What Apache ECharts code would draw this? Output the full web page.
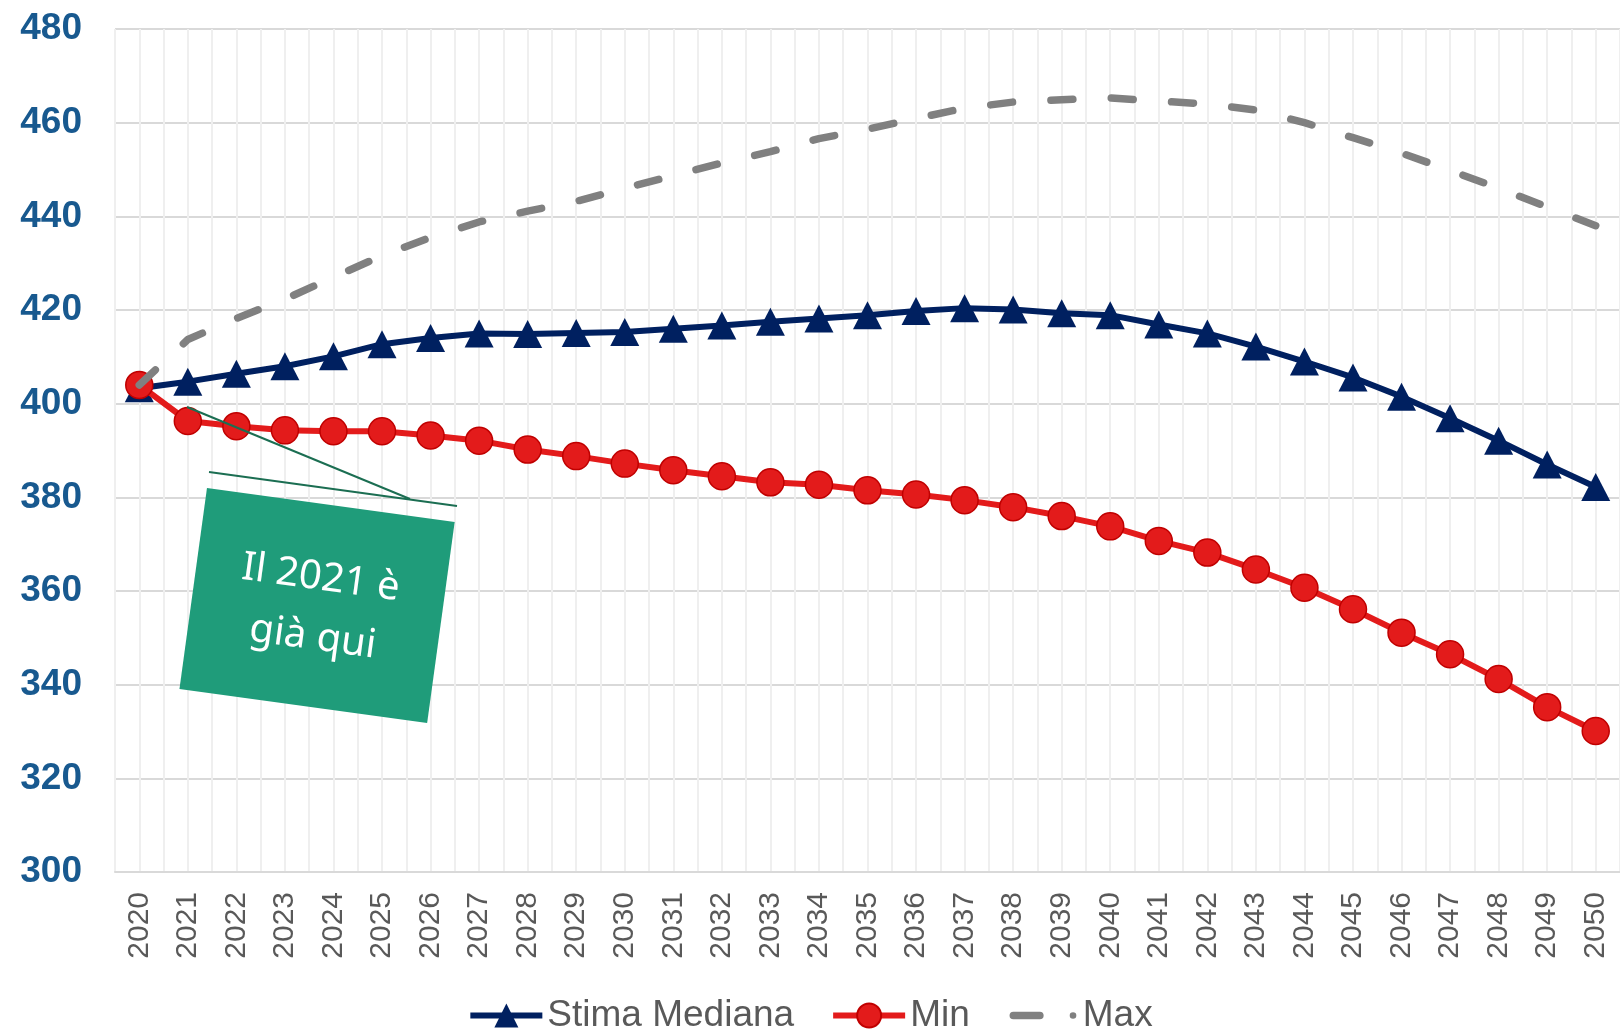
<!DOCTYPE html>
<html>
<head>
<meta charset="utf-8">
<title>Stima Mediana / Min / Max</title>
<script src="https://cdn.jsdelivr.net/npm/echarts@6/dist/echarts.min.js"></script>
<style>
  html, body { margin: 0; padding: 0; background: #fff; }
  #chart { width: 1620px; height: 1030px; }
</style>
</head>
<body>
<div id="chart"></div>
<script>
// anni sull'asse x
const years = ['2020','2021','2022','2023','2024','2025','2026','2027','2028','2029','2030',
  '2031','2032','2033','2034','2035','2036','2037','2038','2039','2040',
  '2041','2042','2043','2044','2045','2046','2047','2048','2049','2050'];

// valori
const stimaMediana = [403.3, 404.7, 406.4, 408.0, 410.1, 412.7, 414.0, 415.0, 414.9, 415.1, 415.3,
  416.0, 416.7, 417.5, 418.2, 418.9, 419.8, 420.4, 420.1, 419.3, 418.9,
  416.9, 415.0, 412.2, 409.0, 405.6, 401.5, 396.9, 392.1, 387.0, 382.2];
const minValues = [404.0, 396.3, 395.2, 394.3, 394.1, 394.1, 393.2, 392.1, 390.2, 388.8, 387.2,
  385.8, 384.5, 383.2, 382.7, 381.5, 380.6, 379.4, 377.9, 376.0, 373.8,
  370.7, 368.2, 364.6, 360.7, 356.1, 351.1, 346.5, 341.2, 335.2, 330.1];
const maxValues = [404.0, 413.7, 418.2, 422.3, 427.0, 431.6, 435.5, 438.8, 441.1, 443.2, 446.0,
  448.7, 451.4, 453.8, 456.6, 458.6, 460.9, 463.1, 464.4, 464.9, 465.3,
  464.6, 464.0, 462.7, 460.0, 456.8, 453.5, 449.8, 446.0, 442.0, 438.0];

const seriesNames = ['Stima Mediana', 'Min', 'Max'];
const noteText = 'Il 2021 è\ngià qui';

const chart = echarts.init(document.getElementById('chart'));

// icona legenda per Max: trattino + punto (come in Excel)
const maxIcon = 'path://M0,0M76,30M8,11h28a4,4 0 0 1 0,8h-28a4,4 0 0 1 0,-8zM71,11.5a3.5,3.5 0 1 0 0.01,0z';

const option = {
  animation: false,
  textStyle: { fontFamily: 'Liberation Sans' },
  grid: {
    left: 115, right: 0, top: 29, bottom: 158,
    containLabel: false,
    outerBoundsMode: 'none'
  },
  xAxis: [
    {
      type: 'category',
      data: years,
      boundaryGap: true,
      axisLine: { show: true, lineStyle: { color: '#d9d9d9', width: 2 } },
      axisTick: { show: false },
      splitLine: { show: false },
      axisLabel: {
        rotate: 90,
        interval: 0,
        margin: 20,
        color: '#595959',
        fontSize: 30,
        fontFamily: 'Liberation Sans'
      },
      z: 3
    },
    {
      // solo per le linee verticali ogni mezza categoria
      type: 'value',
      min: 0,
      max: years.length,
      interval: 0.5,
      position: 'bottom',
      axisLine: { show: false },
      axisTick: { show: false },
      axisLabel: { show: false },
      splitLine: { show: true, lineStyle: { color: '#efefef', width: 2 } }
    }
  ],
  yAxis: {
    type: 'value',
    min: 300,
    max: 480,
    interval: 20,
    axisLine: { show: false },
    axisTick: { show: false },
    axisLabel: {
      margin: 33,
      padding: [5, 0, 0, 0],
      color: '#18598f',
      fontSize: 37,
      fontWeight: 'bold',
      fontFamily: 'Liberation Sans'
    },
    splitLine: { lineStyle: { color: '#d9d9d9', width: 2 } }
  },
  legend: {
    data: [
      { name: seriesNames[0], lineStyle: { width: 6 } },
      { name: seriesNames[1], lineStyle: { width: 6 } },
      { name: seriesNames[2], icon: maxIcon, itemStyle: { color: '#808080' } }
    ],
    top: 992,
    left: 'center',
    itemWidth: 72,
    itemHeight: 30,
    itemGap: 36,
    textStyle: { fontSize: 37, color: '#595959', fontFamily: 'Liberation Sans' }
  },
  series: [
    {
      name: seriesNames[0],
      type: 'line',
      data: stimaMediana,
      symbol: 'triangle',
      symbolSize: [29, 28],
      lineStyle: { color: '#002060', width: 6 },
      itemStyle: { color: '#002060' },
      z: 2
    },
    {
      name: seriesNames[1],
      type: 'line',
      data: minValues,
      symbol: 'circle',
      symbolSize: 27,
      lineStyle: { color: '#e31b1b', width: 6 },
      itemStyle: { color: '#e31b1b', borderColor: '#c00000', borderWidth: 1.5 },
      z: 3
    },
    {
      name: seriesNames[2],
      type: 'line',
      data: maxValues,
      symbol: 'none',
      lineStyle: { color: '#808080', width: 7.5, type: [22, 38.4], cap: 'round' },
      itemStyle: { color: '#808080' },
      z: 4
    }
  ],
  graphic: [
    {
      type: 'line',
      z: 100,
      shape: { x1: 187, y1: 407, x2: 410, y2: 499 },
      style: { stroke: '#1b6e52', lineWidth: 2 }
    },
    {
      type: 'line',
      z: 100,
      shape: { x1: 209, y1: 472, x2: 457, y2: 506 },
      style: { stroke: '#1b6e52', lineWidth: 2 }
    },
    {
      type: 'group',
      x: 317,
      y: 606,
      rotation: -0.136,
      z: 100,
      children: [
        {
          type: 'rect',
          z: 100,
          shape: { x: -125, y: -102, width: 250, height: 203 },
          style: { fill: '#1f9c7a' }
        },
        {
          type: 'text',
          z: 101,
          x: 0,
          y: 2,
          style: {
            text: noteText,
            fill: '#ffffff',
            fontSize: 40,
            fontFamily: 'Noto Sans',
            fontStyle: 'normal',
            lineHeight: 60,
            align: 'center',
            verticalAlign: 'middle'
          }
        }
      ]
    }
  ]
};

chart.setOption(option);
window.addEventListener('resize', function () {
  chart.resize();
});
</script>
</body>
</html>
